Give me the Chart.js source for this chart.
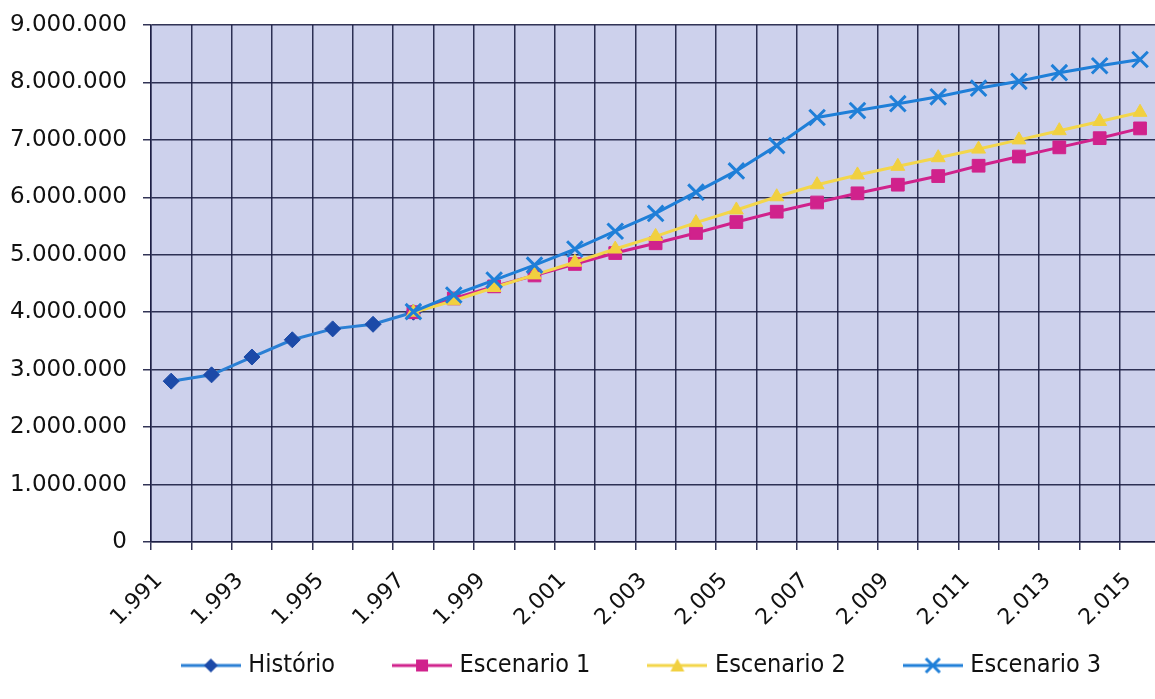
<!DOCTYPE html>
<html><head><meta charset="utf-8">
<script src="https://cdn.jsdelivr.net/npm/chart.js@4/dist/chart.umd.min.js"></script>
<style>
html,body{margin:0;padding:0;background:#fff;overflow:hidden;}
#wrap{position:relative;width:1177px;height:699px;}
</style></head><body>
<div id="wrap"><canvas id="c"></canvas></div>
<script>
// ---- data ----
const years = ['1.991','1.992','1.993','1.994','1.995','1.996','1.997','1.998','1.999','2.000',
  '2.001','2.002','2.003','2.004','2.005','2.006','2.007','2.008','2.009','2.010',
  '2.011','2.012','2.013','2.014','2.015'];
// 1991-1997
const historico = [2800000, 2910000, 3220000, 3520000, 3710000, 3790000, 4000000];
// 1997-2015
const escenario1 = [4000000, 4240000, 4450000, 4640000, 4840000, 5030000, 5200000, 5380000, 5570000,
  5750000, 5910000, 6070000, 6220000, 6370000, 6550000, 6710000, 6870000, 7030000, 7200000];
const escenario2 = [4000000, 4200000, 4430000, 4650000, 4870000, 5100000, 5320000, 5560000, 5780000,
  6010000, 6220000, 6390000, 6540000, 6690000, 6840000, 7000000, 7160000, 7320000, 7480000];
const escenario3 = [4010000, 4300000, 4560000, 4820000, 5100000, 5410000, 5720000, 6090000, 6460000,
  6900000, 7390000, 7510000, 7630000, 7750000, 7900000, 8020000, 8170000, 8290000, 8400000];
const seriesNames = ['Histório', 'Escenario 1', 'Escenario 2', 'Escenario 3'];
const yTicks = [0, 1000000, 2000000, 3000000, 4000000, 5000000, 6000000, 7000000, 8000000, 9000000];

// ---- build full-length series ----
const scenarioStart = years.indexOf('1.997');
const padEnd = arr => arr.concat(Array(years.length - arr.length).fill(null));
const padStart = arr => Array(scenarioStart).fill(null).concat(arr);

const FONT_C = "'DejaVu Sans Condensed', 'DejaVu Sans', sans-serif";
const FONT = "'DejaVu Sans', sans-serif";
const GRID = 'rgba(28,30,68,0.9)';
const PLOT_BG = '#cdd1ec';

const styles = [
  {line: '#2a7fd4', fill: '#1c4aa8', border: '#1c4aa8', shape: 'rectRot', r: 8, bw: 1},
  {line: '#d0228c', fill: '#d0228c', border: '#d0228c', shape: 'rect', r: 9, bw: 1},
  {line: '#f3d64a', fill: '#f1d040', border: '#f1d040', shape: 'triangle', r: 8, bw: 1},
  {line: '#1f7fd8', fill: '#1f7fd8', border: '#1f7fd8', shape: 'crossRot', r: 11, bw: 3}
];

function sample(st) {
  const cv = document.createElement('canvas');
  cv.width = 60; cv.height = 24;
  const g = cv.getContext('2d');
  g.strokeStyle = st.line; g.lineWidth = 3;
  g.beginPath(); g.moveTo(0, 12); g.lineTo(60, 12); g.stroke();
  g.fillStyle = st.fill; g.strokeStyle = st.border; g.lineWidth = st.bw;
  g.beginPath();
  if (st.shape === 'rectRot') { g.moveTo(30, 5); g.lineTo(37, 12); g.lineTo(30, 19); g.lineTo(23, 12); g.closePath(); g.fill(); }
  else if (st.shape === 'rect') { g.rect(24, 6, 12, 12); g.fill(); }
  else if (st.shape === 'triangle') { g.moveTo(30, 5); g.lineTo(37, 18); g.lineTo(23, 18); g.closePath(); g.fill(); }
  else { g.lineWidth = 3; g.moveTo(23, 5); g.lineTo(37, 19); g.moveTo(37, 5); g.lineTo(23, 19); g.stroke(); }
  return cv;
}

const values = [padEnd(historico), padStart(escenario1), padStart(escenario2), padStart(escenario3)];
const datasets = values.map((v, i) => ({
  label: seriesNames[i],
  data: v,
  borderColor: styles[i].line,
  backgroundColor: styles[i].fill,
  borderWidth: 3,
  pointStyle: styles[i].shape,
  pointRadius: styles[i].r,
  pointHoverRadius: styles[i].r,
  pointBackgroundColor: styles[i].fill,
  pointBorderColor: styles[i].border,
  pointBorderWidth: styles[i].bw,
  tension: 0,
  spanGaps: false,
  order: 4 - i,
  legendSample: sample(styles[i])
}));

const plotBg = {
  id: 'plotBg',
  beforeDraw(chart) {
    const {ctx, chartArea: a} = chart;
    ctx.save(); ctx.fillStyle = PLOT_BG;
    ctx.fillRect(a.left, a.top, a.right - a.left, a.bottom - a.top);
    ctx.restore();
  }
};
const legendPlace = {
  id: 'legendPlace',
  afterLayout(chart) {
    const l = chart.legend;
    l.left += 55; l.right += 55;
    l.top = 591; l.bottom = 699;
  }
};

new Chart(document.getElementById('c'), {
  type: 'line',
  data: {labels: years, datasets},
  plugins: [plotBg, legendPlace],
  options: {
    responsive: true, maintainAspectRatio: false, animation: false,
    layout: {padding: {top: 25, left: 0, right: 0, bottom: 0}},
    plugins: {
      tooltip: {enabled: false},
      legend: {
        position: 'bottom',
        maxHeight: 57,
        labels: {
          font: {family: FONT_C, size: 25}, color: '#111',
          usePointStyle: true, pointStyleWidth: 50, padding: 62,
          sort: (a, b) => a.datasetIndex - b.datasetIndex,
          generateLabels(chart) {
            return chart.data.datasets.map((d, i) => ({
              text: d.label, pointStyle: d.legendSample, datasetIndex: i,
              fillStyle: d.backgroundColor, strokeStyle: d.borderColor, lineWidth: 0, hidden: false, fontColor: '#111'
            }));
          }
        }
      }
    },
    scales: {
      x: {
        offset: true,
        grid: {offset: true, color: GRID, lineWidth: 1.5, tickLength: 8, tickColor: GRID},
        border: {color: GRID, width: 1.5},
        ticks: {
          autoSkip: false, maxRotation: 45, minRotation: 45, padding: 18, labelOffset: -12,
          font: {family: FONT, size: 22}, color: '#111',
          callback(v, i) { return i % 2 === 0 ? years[i] : ''; }
        },
        afterFit(s) { s.height = 100; }
      },
      y: {
        min: yTicks[0], max: yTicks[yTicks.length - 1],
        afterBuildTicks(s) { s.ticks = yTicks.map(v => ({value: v})); },
        afterFit(s) { s.width = 151; },
        grid: {color: GRID, lineWidth: 1.5, tickLength: 8, tickColor: GRID},
        border: {color: GRID, width: 1.5},
        ticks: {
          padding: 16, font: {family: FONT, size: 23, lineHeight: 0.6}, color: '#111',
          callback(v) { return v.toLocaleString('de-DE'); }
        }
      }
    }
  }
});
</script>
</body></html>
